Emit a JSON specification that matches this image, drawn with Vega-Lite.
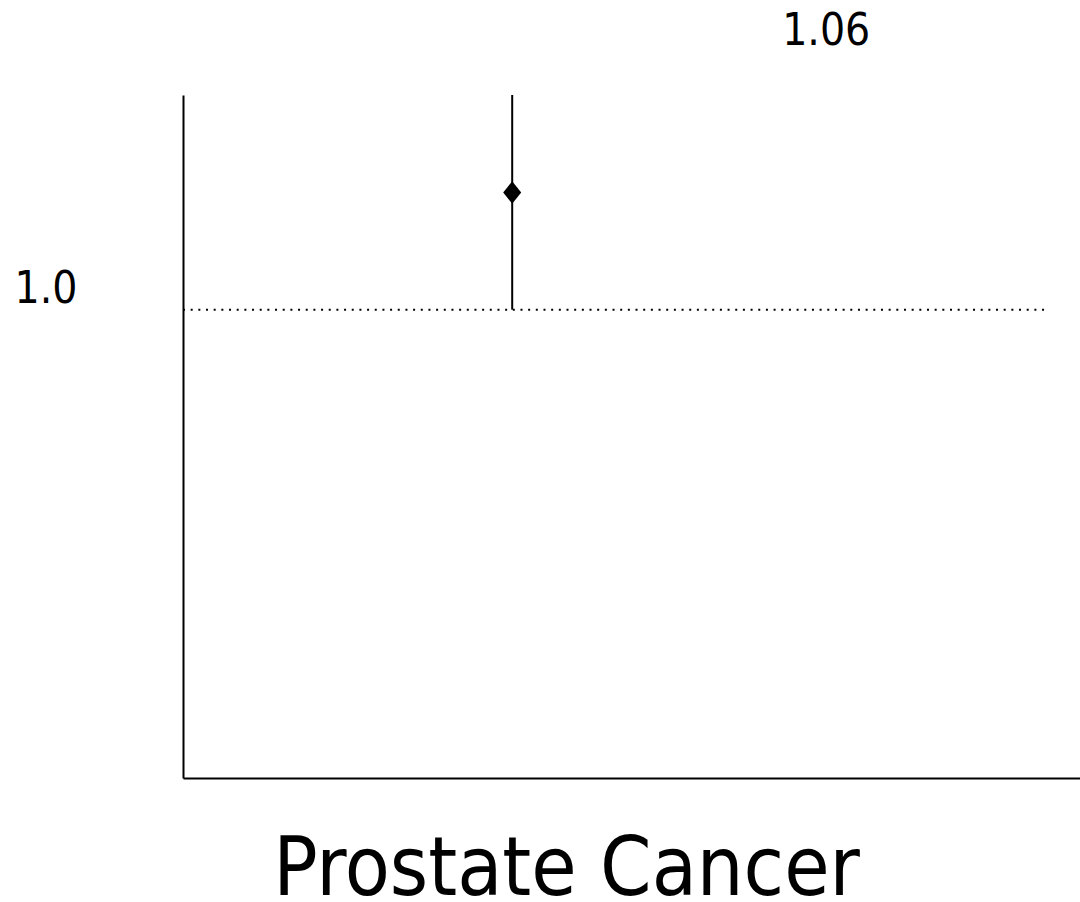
{
  "$schema": "https://vega.github.io/schema/vega-lite/v6.json",
  "autosize": {"type": "none"},
  "padding": {"left": 183, "top": 95, "right": 0, "bottom": 124},
  "width": 897,
  "height": 683,
  "background": "white",
  "config": {"view": {"stroke": null}, "font": "DejaVu Sans Condensed"},
  "data": {"values": [
    {"outcome": "Prostate Cancer", "pos": 0.367, "rr": 1.06, "lower": 1.0, "upper": 1.11, "label": "1.06", "refStart": 0, "refEnd": 0.961, "ref": 1.0}
  ]},
  "encoding": {
    "x": {"type": "quantitative", "scale": {"domain": [0, 1], "nice": false, "zero": false},
      "axis": {"orient": "bottom", "title": "Prostate Cancer", "labels": false, "ticks": false, "grid": false,
        "domainColor": "black", "domainWidth": 2, "titleFontSize": 82, "titleFontWeight": "normal", "titleFont": "DejaVu Sans Condensed",
        "titleColor": "black", "titleX": 383, "titleY": 116, "titleBaseline": "alphabetic", "titleAlign": "center"}}
  },
  "layer": [
    {
      "mark": {"type": "rule", "color": "black", "strokeWidth": 2, "strokeDash": [2, 5.67]},
      "encoding": {
        "x": {"field": "refStart", "type": "quantitative", "title": "Prostate Cancer"},
        "x2": {"field": "refEnd"},
        "y": {"field": "ref", "type": "quantitative", "scale": {"domain": [0.76, 1.11], "nice": false, "zero": false},
          "axis": {"values": [1.0], "format": ".1f", "title": null, "ticks": false, "grid": false, "domainColor": "black", "domainWidth": 2,
            "labelFontSize": 44, "labelColor": "black", "labelPadding": 106, "labelBaseline": "alphabetic", "labelOffset": -7, "labelFont": "DejaVu Sans Condensed"}}
      }
    },
    {
      "mark": {"type": "rule", "color": "black", "strokeWidth": 2},
      "encoding": {
        "x": {"field": "pos", "type": "quantitative"},
        "y": {"field": "lower", "type": "quantitative"},
        "y2": {"field": "upper"}
      }
    },
    {
      "mark": {"type": "point", "shape": "M0,-1.25L1,0L0,1.25L-1,0Z", "filled": true, "color": "black", "size": 324, "opacity": 1},
      "encoding": {
        "x": {"field": "pos", "type": "quantitative"},
        "y": {"field": "rr", "type": "quantitative"}
      }
    },
    {
      "mark": {"type": "text", "fontSize": 44, "color": "black", "align": "center", "baseline": "alphabetic", "dx": 314, "dy": -148, "font": "DejaVu Sans Condensed"},
      "encoding": {
        "x": {"field": "pos", "type": "quantitative"},
        "y": {"field": "rr", "type": "quantitative"},
        "text": {"field": "label"}
      }
    }
  ]
}
